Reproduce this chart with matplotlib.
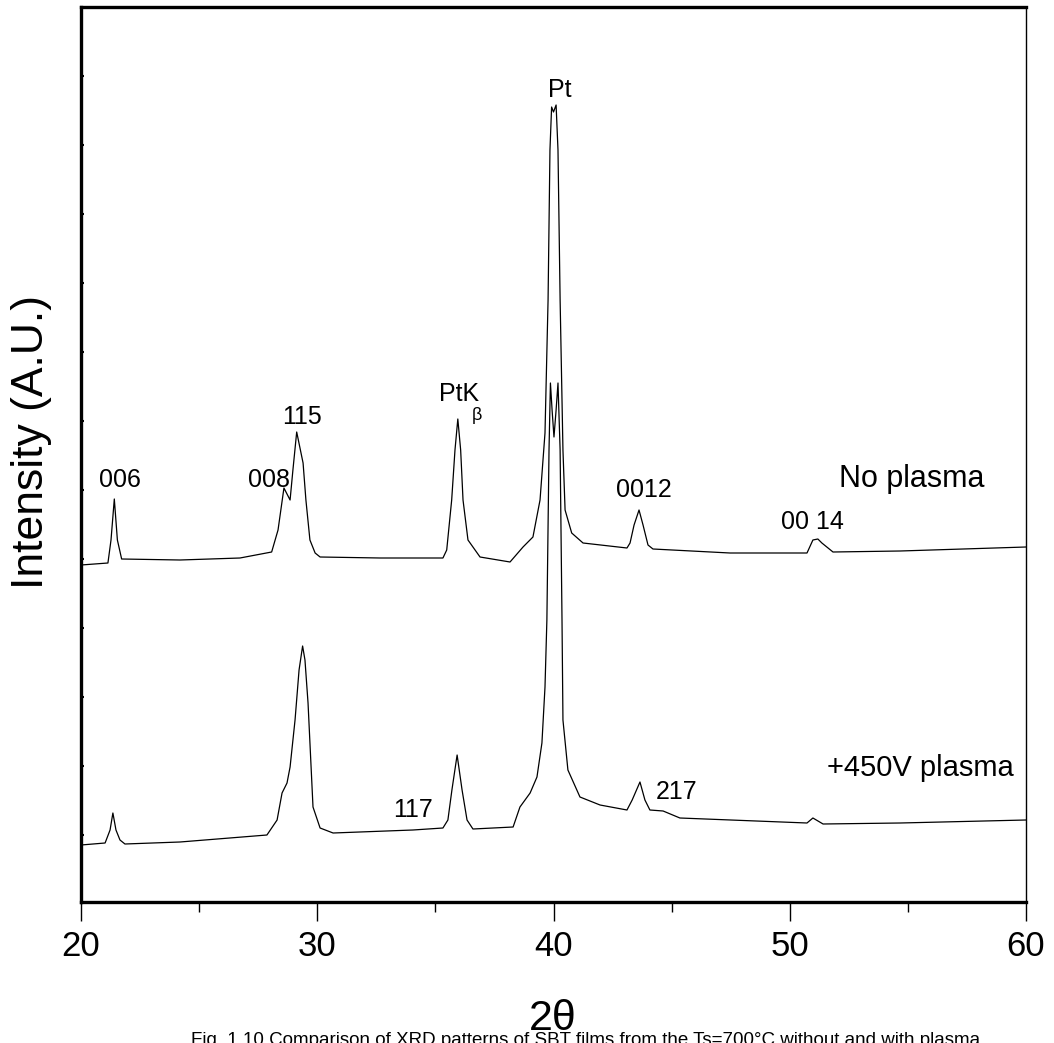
import matplotlib
matplotlib.use("Agg")
import matplotlib.pyplot as plt
import numpy as np

plt.rcParams['font.family'] = ['Liberation Sans Narrow', 'Liberation Sans', 'DejaVu Sans']

# 2-theta (deg) and intensity (a.u.)
two_theta_np = [20.00, 21.14, 21.27, 21.41, 21.54, 21.72, 24.19, 26.73, 28.07, 28.34,
                28.59, 28.85, 28.97, 29.13, 29.40, 29.52, 29.69, 29.91, 30.12, 32.66,
                35.32, 35.48, 35.69, 35.83, 35.95, 36.07, 36.17, 36.38, 36.89, 38.16,
                38.71, 39.13, 39.43, 39.64, 39.77, 39.85, 39.92, 40.00, 40.11, 40.19,
                40.28, 40.40, 40.49, 40.77, 41.25, 43.11, 43.24, 43.41, 43.62, 43.79,
                44.00, 44.21, 47.47, 50.73, 50.98, 51.19, 51.36, 51.83, 54.67, 60.00]
intensity_np = [337, 339, 362, 403, 362, 343, 342, 344, 350, 372,
                414, 402, 432, 470, 439, 402, 362, 349, 345, 344,
                344, 352, 402, 452, 483, 452, 402, 362, 345, 340,
                355, 365, 402, 469, 602, 752, 795, 790, 797, 752,
                602, 452, 392, 369, 359, 354, 359, 377, 392, 377,
                357, 353, 349, 349, 362, 363, 359, 350, 351, 355]

two_theta_pl = [20.00, 21.02, 21.23, 21.35, 21.48, 21.65, 21.86, 24.19, 27.87, 28.30,
                28.51, 28.72, 28.85, 29.06, 29.23, 29.38, 29.48, 29.61, 29.82, 30.12,
                30.67, 34.05, 35.32, 35.53, 35.70, 35.92, 36.13, 36.34, 36.59, 38.29,
                38.58, 39.01, 39.30, 39.51, 39.64, 39.72, 39.81, 39.87, 39.94, 40.02,
                40.11, 40.19, 40.28, 40.36, 40.40, 40.61, 41.12, 41.97, 43.11, 43.33,
                43.66, 43.87, 44.08, 44.64, 45.35, 50.73, 50.98, 51.41, 54.67, 60.00]
intensity_pl = [57, 59, 72, 89, 72, 62, 58, 60, 67, 82,
                109, 119, 135, 182, 232, 256, 242, 199, 95, 74,
                69, 72, 74, 82, 112, 147, 112, 82, 73, 75,
                95, 109, 125, 159, 215, 282, 452, 519, 492, 465,
                492, 519, 452, 282, 182, 132, 105, 97, 92, 102,
                120, 102, 92, 91, 84, 79, 84, 78, 79, 82]

fig = plt.figure(figsize=(10.54, 10.43), dpi=100)
ax = fig.add_axes([81 / 1054, 1 - 902 / 1043, 945 / 1054, 895 / 1043])

ax.plot(two_theta_np, intensity_np, color='black', lw=0.9)
ax.plot(two_theta_pl, intensity_pl, color='black', lw=0.9)

ax.set_xlim(20, 60)
ax.set_ylim(0, 895)
ax.set_xticks([20, 30, 40, 50, 60])
ax.set_xticks([25, 35, 45, 55], minor=True)
ax.set_yticks(np.arange(67, 895, 69))
ax.set_yticklabels([])
ax.tick_params(axis='x', which='major', length=14, width=1, direction='out', labelsize=25, pad=6)
ax.tick_params(axis='x', which='minor', length=7, width=1, direction='out')
ax.tick_params(axis='y', which='major', length=2.5, width=1.5, direction='in')
for side in ['top', 'left', 'bottom']:
    ax.spines[side].set_linewidth(2.4)
ax.spines['right'].set_linewidth(1.0)

# peak labels
kw = dict(ha='center', va='center', fontsize=18)
ax.text(21.65, 422, '006', **kw)
ax.text(27.96, 422, '008', **kw)
ax.text(29.35, 485, '115', **kw)
ax.text(36.0, 508, 'PtK', **kw)
ax.text(36.76, 487, 'β', ha='center', va='center', fontsize=13)
ax.text(40.28, 812, 'Pt', **kw)
ax.text(43.83, 412, '0012', **kw)
ax.text(50.98, 380, '00 14', **kw)
ax.text(34.05, 92, '117', **kw)
ax.text(45.19, 110, '217', **kw)
ax.text(55.17, 423, 'No plasma', ha='center', va='center', fontsize=22)
ax.text(55.55, 134, '+450V plasma', ha='center', va='center', fontsize=21)

fig.text(32 / 1054, 1 - 442 / 1043, 'Intensity (A.U.)', rotation=90,
         ha='center', va='center', fontsize=32)
fig.text(553 / 1054, 1 - 1019 / 1043, '2θ', ha='center', va='center', fontsize=31)
fig.text(586 / 1054, 1 - 1032 / 1043,
         'Fig. 1.10 Comparison of XRD patterns of SBT films from the Ts=700°C without and with plasma',
         ha='center', va='top', fontsize=13.5)

fig.savefig('out.png', dpi=100)
